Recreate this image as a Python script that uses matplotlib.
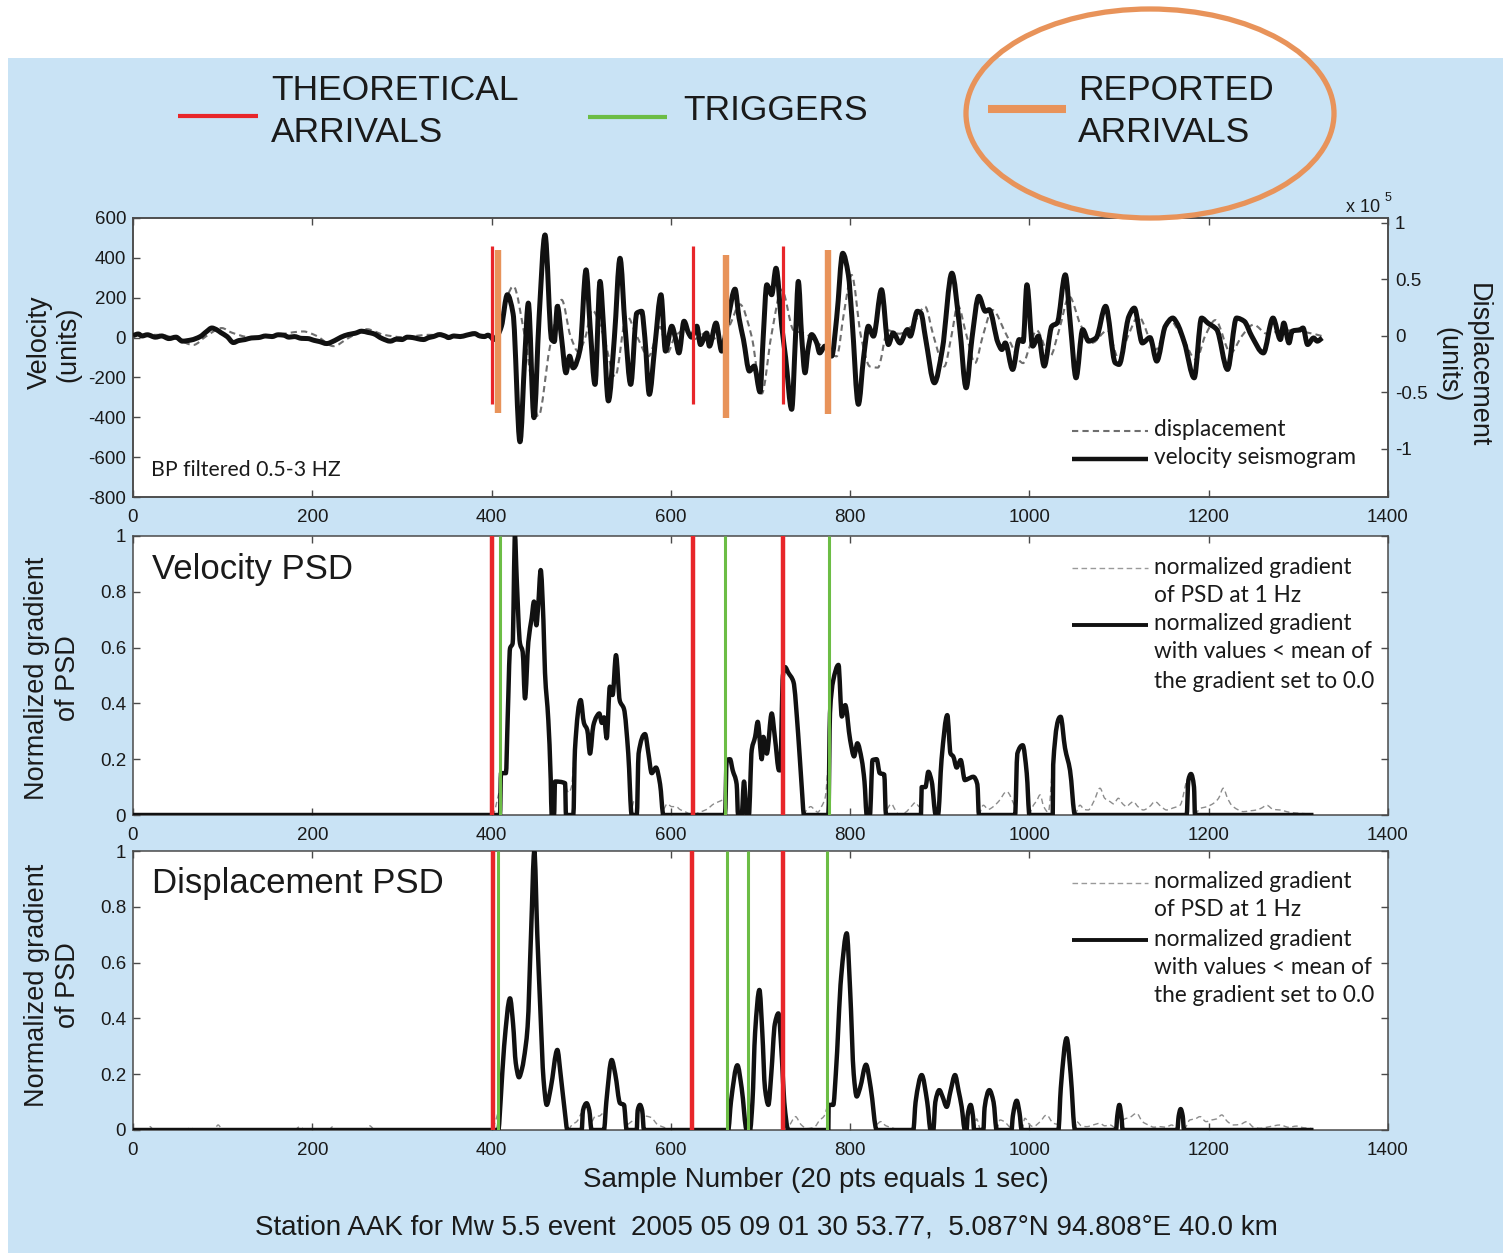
import numpy as np
import matplotlib
matplotlib.use("Agg")
import matplotlib.pyplot as plt
from matplotlib.patches import Ellipse, Rectangle, PathPatch
from matplotlib.path import Path

# ---------------------------------------------------------------- data
# Top panel: band-passed velocity seismogram (counts) and displacement (x1e5)
vel_samples = [0, 6, 10, 16, 25, 32, 40, 48, 55, 65, 75, 82, 88, 93, 98, 105, 112, 118, 125, 132,
               140, 148, 155, 162, 168, 174, 180, 188, 195, 202, 208, 216, 225, 232, 240, 248,
               255, 262, 268, 278, 287, 294, 300, 306, 312, 318, 324, 330, 335, 342, 348, 352,
               358, 365, 372, 381, 387, 392, 396, 400,
               402, 406, 411, 417.6, 424, 431.7, 437, 441, 447.3, 453, 459.6, 467, 470, 473.4,
               478, 483, 487, 491, 498.7, 505.4, 510, 515.4, 521, 525, 530.3, 537, 543.3, 549,
               555.2, 562, 567.5, 571, 576, 582, 589, 594, 601, 605, 609, 614.7, 620, 623, 629,
               633, 640, 643, 650.4, 656.7, 664, 671.6, 676, 681, 687.6, 693, 699.5, 703, 707,
               712.5, 717.3, 723.7, 728, 734.8, 739, 742.2, 746, 749.7, 753, 757, 762.7, 766,
               772, 779.4, 785, 791.7, 798, 802, 809.2, 815, 820.3, 826, 835, 842.6, 848,
               855.7, 864, 867, 875, 879, 884, 894, 902.8, 913.5, 922, 929.4, 936, 943.5,
               950.8, 955, 965, 969.3, 973, 981.3, 988.6, 993, 997.2, 1003.6, 1010, 1016.5,
               1025, 1031, 1040, 1046, 1052, 1059.4, 1066, 1074.4, 1085, 1095.8, 1100, 1111,
               1117, 1126, 1134.5, 1142, 1151.6, 1160, 1164.5, 1173, 1183.8, 1192, 1199, 1209,
               1221, 1231, 1239.6, 1248, 1261, 1271.7, 1280, 1283.7, 1289.6, 1293, 1302,
               1305.2, 1310.3, 1317, 1321, 1326.6]
vel_values = [10, 18, 8, 14, 2, 8, -5, 2, -18, -12, 5, 30, 48, 40, 25, 5, -25, -15, -10, -2,
              0, 8, 5, 14, 12, 2, 5, -4, -5, -14, -20, -30, -15, 2, 15, 22,
              32, 26, 20, -5, -18, -8, -10, 2, 0, -6, -10, 0, 5, 15, 8, 0,
              8, 5, 12, 20, 8, 5, 12, 0,
              -10, 5, 57, 215, 120, -523, -100, 173, -402, 100, 515, -10, -20, 157,
              0, -177, -93, -152, -60, 340, 50, -235, 282, 50, -318, 0, 398, 50,
              -235, 123, 132, 0, -285, -50, 215, -68, 57, 0, -77, 82, 20, 2, 57,
              -35, 23, -43, 73, -68, 100, 243, 100, -10, -168, -143, -273, 0, 265,
              215, 348, 57, -100, -360, 0, 282, 0, -177, -60, 15, -27, -77,
              -43, -93, 100, 423, 315, 100, -335, -100, 57, 7, 240, -35, 23,
              -27, 40, 7, 132, 123, 0, -227, -60, 323, 57, -252, 0, 207,
              132, 140, -27, -60, -27, -160, -10, -20, 265, -43, 7, -143,
              57, 73, 315, 50, -202, 40, -18, -2, 157, -127, -135, 107,
              148, -27, 0, -118, 57, 98, 73, -27, -202, 98, 73, 40,
              -160, 98, 82, 7, -77, 98, -10, 73, -27, 32, 40,
              48, -35, -2, -18, -2]

disp_samples = [0, 30, 50, 67, 82, 99, 110, 130, 160, 190, 205, 223.5, 240, 260.7, 280, 300,
                330, 360, 390, 405, 412, 424.3, 437, 452.2, 465, 478.2, 488, 497, 505, 512,
                525, 537.7, 550.7, 562, 575, 588, 596, 605, 615, 625, 640, 655, 666, 677,
                690, 701.4, 712, 723.7, 737, 750, 762, 770, 785, 793, 801.7, 812, 822, 831,
                842, 855, 870, 883.5, 893, 905, 913, 920, 930, 939.3, 948, 958.5, 975, 993,
                1000, 1008, 1023, 1033, 1044.4, 1057, 1070, 1087, 1100, 1110, 1121.6, 1141,
                1156, 1170, 1186, 1196, 1207.4, 1224.5, 1237, 1250, 1265, 1284, 1310, 1326]
disp_values = [0.01, 0.01, -0.03, -0.08, 0.0, 0.07, 0.03, -0.01, 0.01, 0.04, 0.0, -0.09, -0.02,
               0.06, 0.01, -0.01, 0.01, 0.0, 0.01, 0.0, 0.2, 0.44, 0.0, -0.71, -0.1, 0.32, 0.0,
               -0.14, 0.0, 0.23, 0.0, -0.36, 0.18, 0.0, -0.18, 0.08, -0.15, 0.0, 0.05, -0.03,
               0.03, -0.05, 0.1, 0.28, 0.0, -0.51, 0.0, 0.41, 0.05, 0.02, -0.05, -0.1, -0.18,
               0.2, 0.54, 0.0, -0.27, -0.28, 0.05, 0.02, 0.1, 0.26, 0.0, -0.27, 0.0, 0.27,
               0.0, -0.24, 0.0, 0.23, 0.0, -0.24, -0.1, 0.05, -0.18, 0.05, 0.35, 0.1, -0.06,
               0.05, -0.21, 0.0, 0.17, -0.12, 0.14, 0.0, -0.21, 0.0, 0.14, -0.15, 0.0, 0.10,
               0.02, 0.05, 0.03, 0.0]

# Middle panel: normalized gradient of the velocity PSD
vpsd_samples = [0, 409.4, 410.5, 416, 418, 420.6, 423.5, 426.1, 428, 431.7, 434.7, 437.3, 441,
                444.7, 447.3, 450, 452, 454.8, 457.8, 459.6, 463.3, 466, 467, 469.7, 470.8, 482,
                483, 491.2, 493, 499.4, 503, 506.8, 509.8, 513.5, 517, 520.2, 523, 525.5,
                528.4, 532, 535, 538.8, 543, 547.7, 552.5, 556.3, 562, 564, 571.2, 575, 578.6,
                583.4, 588, 591.6, 660.4, 662.3, 666, 669, 673.4, 675, 679, 681.6, 684.6, 687,
                690.2, 694, 696.9, 701.4, 703.2, 707, 712.5, 716, 720.7, 722, 725, 727.4, 731,
                736.7, 742, 746, 748.5, 775.7, 777.5, 781, 787, 790.7, 794.5, 800, 804.4, 808,
                813, 816, 818.5, 822, 825, 829.6, 833, 838, 840, 879, 879.8, 884, 887.2, 891,
                895.5, 898, 902, 908.4, 912, 915, 918.8, 923.3, 928, 931.8, 937.4, 941.9,
                943.7, 984, 986.5, 992.5, 997, 1000, 1026, 1026.5, 1034.8, 1039.7, 1045.3,
                1050.8, 1175.4, 1177.3, 1180.2, 1183.6, 1184.7, 1316.8]
vpsd_values = [0, 0, 0.15, 0.15, 0.35, 0.597, 0.615, 1.0, 0.85, 0.615, 0.585, 0.418, 0.62,
               0.705, 0.765, 0.68, 0.75, 0.878, 0.7, 0.51, 0.34, 0.127, 0, 0, 0.12, 0.114,
               0, 0, 0.233, 0.412, 0.33, 0.304, 0.22, 0.32, 0.352, 0.364, 0.33, 0.35,
               0.275, 0.46, 0.43, 0.573, 0.41, 0.38, 0.22, 0, 0, 0.22, 0.29, 0.22, 0.15,
               0.17, 0.11, 0, 0, 0.197, 0.2, 0.16, 0.11, 0, 0, 0.12, 0, 0,
               0.233, 0.28, 0.334, 0.2, 0.28, 0.22, 0.364, 0.28, 0.16, 0.16, 0.5, 0.53, 0.51,
               0.478, 0.29, 0.10, 0, 0, 0.364, 0.48, 0.538, 0.353, 0.394, 0.269, 0.21, 0.257,
               0.197, 0.12, 0, 0, 0.197, 0.2, 0.15, 0.145, 0, 0, 0.1, 0.1, 0.155, 0.12,
               0, 0, 0.2, 0.358, 0.22, 0.21, 0.17, 0.197, 0.125, 0.13, 0.137, 0.11,
               0, 0, 0.22, 0.25, 0.15, 0, 0, 0.18, 0.352, 0.24, 0.16,
               0, 0, 0.125, 0.147, 0.1, 0, 0]

# full gradient (dashed); NaN where it runs under the thresholded curve
vgrad_samples = [400, 403, 406, 409, np.nan, 483, 486, 489, 492, np.nan, 557, 559, 562, 564,
                 np.nan, 592, 596, 601, 606, 610, 617, 624, 632, 640, 648, 655, 660, 662,
                 np.nan, 748, 752, 756, 760, 764, 768, 772, 776, np.nan, 841, 846, 850, 855,
                 862, 868, 873, 877, 880, np.nan, 944, 948.6, 954, 959.7, 966, 974.6, 984,
                 np.nan, 1000, 1004.4, 1008, 1011.8, 1016, 1021, 1026, np.nan, 1051, 1056.4,
                 1061, 1065.7, 1072, 1078.7, 1084, 1089.9, 1094, 1099.2, 1104, 1108.5, 1112,
                 1115.9, 1121, 1127, 1134, 1140, 1147, 1153, 1160, 1168, 1175.4, np.nan,
                 1185, 1190.3, 1198, 1205, 1211, 1216.3, 1221, 1225.6, 1232, 1238.6, 1246,
                 1253.5, 1259, 1264.7, 1272, 1279.5, 1290, 1301.9, 1316.8]
vgrad_values = [0, 0.01, 0.05, 0.09, np.nan, 0.1, 0.08, 0.1, 0.2, np.nan, 0.03, 0.05, 0.04, 0.15,
                np.nan, 0.02, 0.04, 0.03, 0.03, 0.02, 0.01, 0.0, 0.01, 0.02, 0.04, 0.05, 0.06,
                0.15, np.nan, 0.0, 0.02, 0.03, 0.02, 0.01, 0.03, 0.06, 0.2, np.nan, 0.02, 0.04,
                0.02, 0.0, 0.01, 0.03, 0.045, 0.03, 0.1, np.nan, 0.0, 0.035, 0.02, 0.03,
                0.05, 0.084, 0.03, np.nan, 0.0, 0.035, 0.05, 0.072, 0.03, 0.01, 0.18, np.nan,
                0.0, 0.035, 0.02, 0.018, 0.05, 0.096, 0.06, 0.048, 0.04, 0.06, 0.04, 0.03,
                0.04, 0.048, 0.03, 0.018, 0.03, 0.048, 0.03, 0.018, 0.025, 0.035, 0.125,
                np.nan, 0.0, 0.023, 0.03, 0.041, 0.06, 0.096, 0.06, 0.035, 0.02, 0.012,
                0.015, 0.018, 0.025, 0.035, 0.02, 0.018, 0.01, 0.006, 0.003]

# Bottom panel: normalized gradient of the displacement PSD
dpsd_samples = [0, 407.6, 410, 414, 420.6, 424, 427, 430.6, 434, 438, 440.2, 444, 447.7, 451,
                454.3, 458, 461.5, 466, 473.4, 477, 481.9, 484.5, 500.5, 502, 506, 509, 511.5,
                525.4, 528, 534, 538, 543.3, 547.7, 550.7, 561.9, 563, 565.6, 568, 570, 664,
                667, 674.2, 679, 684.6, 688.3, 691, 694, 698.8, 702, 705, 708.8, 712, 716,
                720, 724, 726.5, 731, 775.7, 776, 781.2, 784, 790, 796.2, 800, 804, 807.3,
                811, 817.7, 823, 829.6, 870.5, 873, 879.8, 886, 889.8, 892.8, 895, 899.5, 903,
                907.7, 912, 917, 921, 924.4, 928, 930, 931, 934.4, 937, 938.3, 948.6, 950,
                955.3, 960, 963.4, 980, 981.5, 985.8, 989, 991.3, 1032.3, 1035, 1041.5, 1046,
                1050.8, 1096.6, 1098, 1100.3, 1102.6, 1104, 1165, 1166.5, 1168.7, 1171,
                1172.4, 1316.8]
dpsd_values = [0, 0, 0.1, 0.3, 0.472, 0.38, 0.24, 0.189, 0.22, 0.3, 0.37, 0.7, 1.0, 0.7,
               0.44, 0.18, 0.09, 0.15, 0.287, 0.2, 0.06, 0, 0, 0.07, 0.096, 0.07, 0,
               0, 0.1, 0.251, 0.2, 0.096, 0.09, 0, 0, 0.07, 0.09, 0.07, 0, 0,
               0.1, 0.232, 0.15, 0, 0, 0.1, 0.35, 0.502, 0.35, 0.15, 0.09, 0.2, 0.38,
               0.418, 0.25, 0.1, 0, 0, 0.09, 0.09, 0.2, 0.55, 0.705, 0.5, 0.2, 0.12,
               0.15, 0.234, 0.15, 0, 0, 0.1, 0.197, 0.1, 0, 0, 0.1, 0.143, 0.12,
               0.083, 0.14, 0.197, 0.14, 0.083, 0, 0, 0.05, 0.09, 0.05, 0, 0, 0.08,
               0.143, 0.1, 0, 0, 0.05, 0.105, 0.06, 0, 0, 0.15, 0.329, 0.2,
               0, 0, 0.05, 0.09, 0.05, 0, 0, 0.05, 0.075, 0.05,
               0, 0]

dgrad_samples = [0, 15, 19, 23, 60, 64, 68, 90, 95, 100, 180, 186, 192, 218, 223, 228, 258,
                 264, 270, 400, 403, 407, np.nan, 486, 490, 495, 500, np.nan, 512, 516, 520,
                 524, np.nan, 552, 556, 560, np.nan, 572, 578, 585, 592, 600, 620, 640, 660,
                 664, np.nan, 733, 739, 745, 752, 760, 766, 771, 775, np.nan, 830, 834, 840,
                 845, 855, 870, np.nan, 890, 892, np.nan, 939, 941, 945, np.nan, 964, 967.2,
                 972, 978, np.nan, 992, 995, 1000, 1004, 1012, 1019, 1026.7, 1032, np.nan,
                 1051, 1052.7, 1058, 1063.9, 1071, 1078.7, 1084, 1089.9, 1096, np.nan, 1104,
                 1104.8, 1112, 1119.6, 1126, 1132.7, 1139, 1145.7, 1152, 1158.7, 1165, np.nan,
                 1173, 1179, 1185, 1190.3, 1197, 1203.3, 1209, 1214.5, 1221, 1227.5, 1235,
                 1242.4, 1250, 1257.2, 1268, 1279.6, 1289, 1298.2, 1306, 1313, 1316.8]
dgrad_values = [0, 0, 0.012, 0, 0, 0.01, 0, 0, 0.018, 0, 0, 0.012, 0, 0, 0.012, 0, 0,
                0.015, 0, 0, 0.02, 0.06, np.nan, 0.0, 0.02, 0.03, 0.06, np.nan, 0.03, 0.05,
                0.05, 0.06, np.nan, 0.02, 0.03, 0.04, np.nan, 0.05, 0.045, 0.02, 0.01, 0.0,
                0.0, 0.0, 0.0, 0.0, np.nan, 0.02, 0.048, 0.02, 0.005, 0.01, 0.035, 0.05,
                0.09, np.nan, 0.02, 0.03, 0.015, 0.01, 0.0, 0.0, np.nan, 0.0, 0.0, np.nan,
                0.0, 0.04, 0.0, np.nan, 0.0, 0.036, 0.03, 0.01, np.nan, 0.0, 0.042, 0.02,
                0.012, 0.03, 0.054, 0.024, 0.02, np.nan, 0.0, 0.03, 0.015, 0.012, 0.018,
                0.024, 0.015, 0.018, 0.005, np.nan, 0.0, 0.036, 0.045, 0.06, 0.03, 0.018,
                0.01, 0.012, 0.01, 0.018, 0.0, np.nan, 0.0, 0.036, 0.04, 0.048, 0.03, 0.036,
                0.04, 0.054, 0.03, 0.018, 0.02, 0.03, 0.01, 0.006, 0.012, 0.018, 0.01,
                0.014, 0.008, 0.006, 0.003]

# arrival picks (sample number)
theoretical_top = [400, 625, 725]
reported_top = [407, 661, 775]
theoretical_vel = [400, 625, 725]
triggers_vel = [409, 660, 776]
theoretical_disp = [402, 624, 725]
triggers_disp = [407, 663, 686, 774]

x_ticks = [0, 200, 400, 600, 800, 1000, 1200, 1400]
vel_ticks = [-800, -600, -400, -200, 0, 200, 400, 600]
disp_ticks = [-1, -0.5, 0, 0.5, 1]
disp_tick_labels = ["-1", "-0.5", "0", "0.5", "1"]
psd_ticks = [0, 0.2, 0.4, 0.6, 0.8, 1]
psd_tick_labels = ["0", "0.2", "0.4", "0.6", "0.8", "1"]

# ---------------------------------------------------------------- style
BLUE_BG = "#c9e3f5"
RED = "#e8262a"
GREEN = "#6cbd45"
ORANGE = "#e8935a"
SPINE = "#4a4a4a"
INK = "#1a1a1a"
HELV = ["Liberation Sans", "DejaVu Sans"]
MYRIAD = ["Lato", "DejaVu Sans"]

plt.rcParams["font.family"] = HELV
plt.rcParams["axes.linewidth"] = 1.1

W, H = 1503, 1253
fig = plt.figure(figsize=(W / 100, H / 100), dpi=100)
fig.patch.set_facecolor("white")


def smooth_trace(ax, xs, ys, **kw):
    """Draw a trace through its samples as a monotone (shape-preserving) cubic curve."""
    xs = np.asarray(xs, float)
    ys = np.asarray(ys, float)
    ok = np.flatnonzero(~(np.isnan(xs) | np.isnan(ys)))
    runs = np.split(ok, np.flatnonzero(np.diff(ok) > 1) + 1)
    verts, codes = [], []
    for run in runs:
        if len(run) < 2:
            continue
        x, y = xs[run], ys[run]
        h = np.diff(x)
        d = np.diff(y) / h
        m = np.zeros_like(y)
        m[0], m[-1] = d[0], d[-1]
        for k in range(1, len(x) - 1):
            if d[k - 1] * d[k] > 0:
                w1 = 2 * h[k] + h[k - 1]
                w2 = h[k] + 2 * h[k - 1]
                m[k] = (w1 + w2) / (w1 / d[k - 1] + w2 / d[k])
        verts.append((x[0], y[0]))
        codes.append(Path.MOVETO)
        for k in range(len(x) - 1):
            verts += [(x[k] + h[k] / 3, y[k] + m[k] * h[k] / 3),
                      (x[k + 1] - h[k] / 3, y[k + 1] - m[k + 1] * h[k] / 3),
                      (x[k + 1], y[k + 1])]
            codes += [Path.CURVE4] * 3
    patch = PathPatch(Path(verts, codes), fill=False, transform=ax.transData,
                      joinstyle="round", capstyle="butt", **kw)
    ax.add_patch(patch)
    return patch


def px_axes(z):
    a = fig.add_axes([0, 0, 1, 1], zorder=z)
    a.set_xlim(0, W)
    a.set_ylim(H, 0)
    a.axis("off")
    a.patch.set_alpha(0)
    return a


bg = px_axes(0)
bg.add_patch(Rectangle((8, 58), W - 8, H - 58, facecolor=BLUE_BG, edgecolor="none"))

TICKS = dict(direction="in", length=5, width=1, colors=SPINE, labelcolor=INK,
             labelsize=13.5)


def panel(top_px, z=2):
    left, right, h = 133, 1388, 279
    ax = fig.add_axes([left / W, 1 - (top_px + h) / H, (right - left) / W, h / H], zorder=z)
    ax.set_facecolor("white")
    for s in ax.spines.values():
        s.set_color(SPINE)
    ax.set_xlim(0, 1400)
    ax.set_xticks(x_ticks)
    ax.set_xticklabels([str(t) for t in x_ticks])
    ax.tick_params(axis="x", pad=8.5, top=True, **TICKS)
    ax.tick_params(axis="y", pad=5, **TICKS)
    return ax


# ---- top panel: seismogram (velocity drawn above the displacement axes)
ax1 = panel(218, z=3)
ax1.patch.set_visible(False)
ax1.set_ylim(-800, 600)
ax1.set_yticks(vel_ticks)
ax1.set_yticklabels([str(t) for t in vel_ticks])
ax1.tick_params(axis="y", right=False)

ax1b = fig.add_axes(ax1.get_position(), zorder=2, sharex=ax1)
ax1b.set_facecolor("white")
ax1b.yaxis.tick_right()
ax1b.yaxis.set_label_position("right")
ax1b.tick_params(axis="x", bottom=False, top=False, labelbottom=False)
ax1b.tick_params(axis="y", left=False, right=True, pad=5, **TICKS)
for s in ax1b.spines.values():
    s.set_color(SPINE)
ax1b.set_ylim(-1.425, 1.044)
ax1b.set_yticks(disp_ticks)
ax1b.set_yticklabels(disp_tick_labels)
smooth_trace(ax1b, disp_samples, disp_values, edgecolor="#6e6e6e", lw=1.5,
             linestyle=(0, (3, 2)))

smooth_trace(ax1, vel_samples, vel_values, edgecolor="#111111", lw=3.6, zorder=3)
ax1.vlines(theoretical_top, -335, 457, colors=RED, lw=2.3, capstyle="butt", zorder=5)
ax1.vlines(reported_top, [-380, -405, -385], [440, 415, 437], colors=ORANGE, lw=4.6,
           capstyle="butt", zorder=5)

# ---- middle panel: velocity PSD
ax2 = panel(536)
ax2.set_ylim(0, 1)
ax2.set_yticks(psd_ticks)
ax2.set_yticklabels(psd_tick_labels)
ax2.tick_params(axis="y", right=True)
smooth_trace(ax2, vgrad_samples, vgrad_values, edgecolor="#8c8c8c", lw=1.0,
             linestyle=(0, (4, 2.5)), zorder=2)
smooth_trace(ax2, vpsd_samples, vpsd_values, edgecolor="#111111", lw=3.2, zorder=3)
for x in theoretical_vel:
    ax2.axvline(x, color=RED, lw=3.2, solid_capstyle="butt", zorder=5)
for x in triggers_vel:
    ax2.axvline(x, color=GREEN, lw=2.2, solid_capstyle="butt", zorder=5)

# ---- bottom panel: displacement PSD
ax3 = panel(851)
ax3.set_ylim(0, 1)
ax3.set_yticks(psd_ticks)
ax3.set_yticklabels(psd_tick_labels)
ax3.tick_params(axis="y", right=True)
smooth_trace(ax3, dgrad_samples, dgrad_values, edgecolor="#8c8c8c", lw=1.0,
             linestyle=(0, (4, 2.5)), zorder=2)
smooth_trace(ax3, dpsd_samples, dpsd_values, edgecolor="#111111", lw=3.2, zorder=3)
for x in theoretical_disp:
    ax3.axvline(x, color=RED, lw=3.2, solid_capstyle="butt", zorder=5)
for x in triggers_disp:
    ax3.axvline(x, color=GREEN, lw=2.2, solid_capstyle="butt", zorder=5)

# ---------------------------------------------------------------- annotations (pixel space)
ov = px_axes(10)

# header legend
head = dict(fontsize=25.5, va="center", ha="left", color=INK)
ov.plot([178, 258], [116, 116], color=RED, lw=3.0, solid_capstyle="butt")
ov.text(271, 90, "THEORETICAL", **head)
ov.text(271, 133, "ARRIVALS", **head)
ov.plot([588, 667], [117, 117], color=GREEN, lw=3.0, solid_capstyle="butt")
ov.text(683, 111, "TRIGGERS", **head)
ov.plot([988, 1066], [109, 109], color=ORANGE, lw=5.8, solid_capstyle="butt")
ov.text(1078, 90, "REPORTED", **head)
ov.text(1078, 133, "ARRIVALS", **head)
ov.add_patch(Ellipse((1150, 113.5), 368, 209, facecolor="none", edgecolor=ORANGE, lw=3.8))

# axis labels
lab = dict(fontsize=19.5, color=INK, ha="center", va="center")
ov.text(40, 342, "Velocity", rotation=90, **lab)
ov.text(68, 344, "(units)", rotation=90, **lab)
ov.text(1478, 365, "Displacement", rotation=270, **lab)
ov.text(1447, 365, "(units)", rotation=270, **lab)
for yc in (678, 985):
    ov.text(37, yc, "Normalized gradient", rotation=90, **lab)
    ov.text(68, yc, "of PSD", rotation=90, **lab)
ov.text(816, 1180, "Sample Number (20 pts equals 1 sec)", fontsize=20, ha="center",
        va="center", color=INK)
ov.text(766, 1228,
        "Station AAK for Mw 5.5 event  2005 05 09 01 30 53.77,  5.087\u00b0N 94.808\u00b0E 40.0 km",
        fontsize=20, ha="center", va="center", color=INK)
ov.text(1346, 208, "x 10", fontsize=13, ha="left", va="center", color=INK)
ov.text(1385, 198, "5", fontsize=9, ha="left", va="center", color=INK)

# panel titles and notes
ov.text(152, 569, "Velocity PSD", fontsize=25, ha="left", va="center", color=INK)
ov.text(152, 883, "Displacement PSD", fontsize=25, ha="left", va="center", color=INK)
ov.text(151, 470, "BP filtered 0.5-3 HZ", fontsize=15.3, family=MYRIAD, ha="left",
        va="center", color=INK)

# in-panel legends
leg = dict(fontsize=16.3, family=MYRIAD, ha="left", va="center", color=INK)
ov.plot([1072, 1148], [431, 431], color="#6e6e6e", lw=1.5, dashes=(3, 2))
ov.text(1154, 430, "displacement", **leg)
ov.plot([1072, 1148], [459, 459], color="#111111", lw=3.2, solid_capstyle="butt")
ov.text(1154, 458, "velocity seismogram", **leg)

for y0 in (568, 883):
    ov.plot([1072, 1148], [y0, y0], color="#9a9a9a", lw=1.0, dashes=(4, 2.5))
    ov.text(1154, y0 - 1, "normalized gradient", **leg)
    ov.text(1154, y0 + 27, "of PSD at 1 Hz", **leg)
    ov.plot([1072, 1148], [y0 + 57, y0 + 57], color="#111111", lw=2.8, solid_capstyle="butt")
    ov.text(1154, y0 + 56, "normalized gradient", **leg)
    ov.text(1154, y0 + 84, "with values < mean of", **leg)
    ov.text(1154, y0 + 113, "the gradient set to 0.0", **leg)

fig.savefig("out.png", dpi=100, facecolor="white")
